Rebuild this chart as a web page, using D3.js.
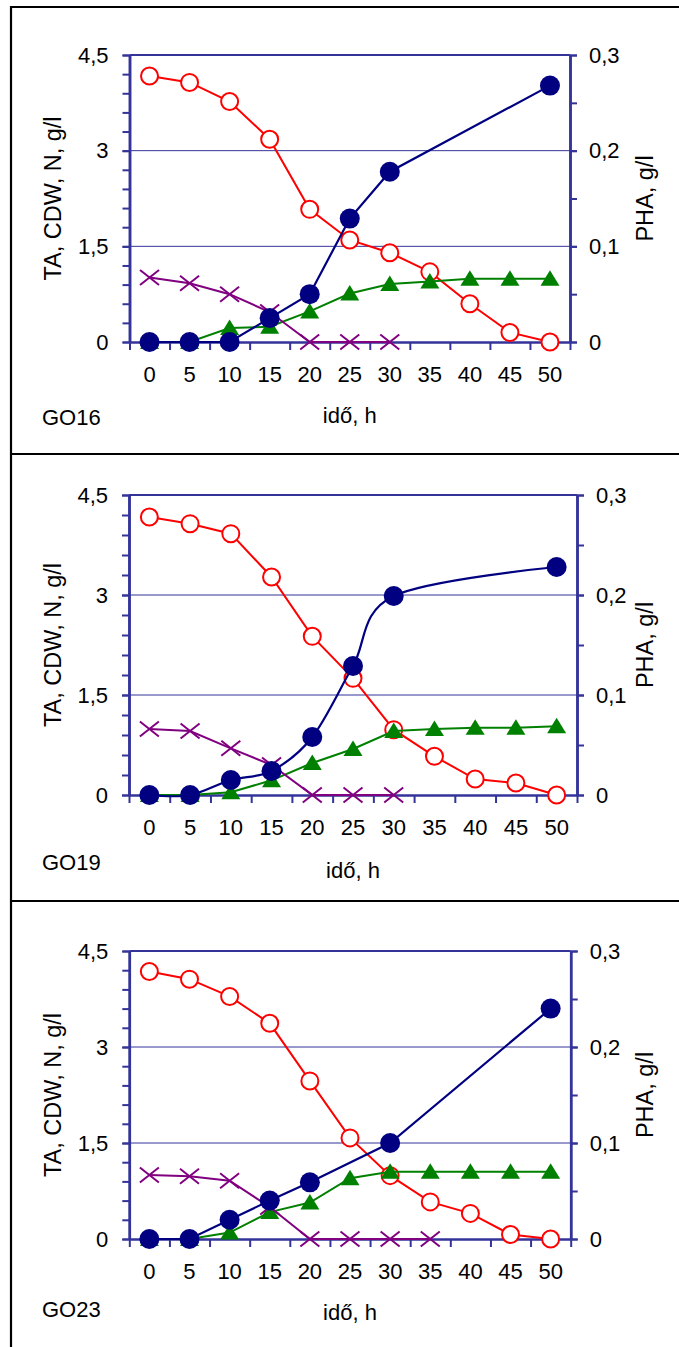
<!DOCTYPE html>
<html>
<head>
<meta charset="utf-8">
<script src="https://cdn.jsdelivr.net/npm/d3@7"></script>
<style>
  body { margin: 0; background: #fff; }
  svg { display: block; }
  text { font-family: "Liberation Sans", Arial, sans-serif; fill: #000; }
</style>
</head>
<body>
<script>
// time points (h)
const times = [0, 5, 10, 15, 20, 25, 30, 35, 40, 45, 50];

// GO16
const go16TA = [4.17, 4.07, 3.77, 3.18, 2.08, 1.6, 1.4, 1.1, 0.6, 0.15, 0.0];
const go16CDW = [0, 0, 0.22, 0.24, 0.48, 0.76, 0.91, 0.95, 0.99, 0.99, 0.99];
const go16N = [1.01, 0.92, 0.75, 0.47, 0, 0, 0, null, null, null, null];
const go16PHA = [0, 0, 0, 0.025, 0.05, 0.129, 0.178, null, null, null, 0.268];

// GO19
const go19TA = [4.17, 4.07, 3.92, 3.27, 2.38, 1.75, 0.98, 0.58, 0.24, 0.18, 0.0];
const go19CDW = [0, 0, 0.04, 0.22, 0.48, 0.69, 0.96, 0.99, 1.01, 1.01, 1.03];
const go19N = [0.99, 0.96, 0.7, 0.45, 0, 0, 0, null, null, null, null];
const go19PHA = [0, 0, 0.015, 0.024, 0.058, 0.129, 0.199, null, null, null, 0.228];

// GO23
const go23TA = [4.18, 4.06, 3.79, 3.37, 2.47, 1.58, 0.99, 0.58, 0.4, 0.07, 0.0];
const go23CDW = [0, 0, 0.1, 0.42, 0.57, 0.95, 1.05, 1.05, 1.05, 1.05, 1.05];
const go23N = [1.0, 0.98, 0.91, 0.5, 0, 0, 0, 0, null, null, null];
const go23PHA = [0, 0, 0.02, 0.04, 0.059, null, 0.1, null, null, null, 0.24];

const leftMajor = [0, 1.5, 3, 4.5];
const rightMajor = [0, 0.1, 0.2, 0.3];

const width = 679;
const height = 1347;
const axisColor = "#333399";

const panels = [
  { name: "GO16", ta: go16TA, cdw: go16CDW, n: go16N, pha: go16PHA, smooth: false,
    top: 55, bottom: 342, left: 129.5, right: 570, labelY: 417, titleY: 415 },
  { name: "GO19", ta: go19TA, cdw: go19CDW, n: go19N, pha: go19PHA, smooth: true,
    top: 495, bottom: 795, left: 129, right: 577, labelY: 862, titleY: 870 },
  { name: "GO23", ta: go23TA, cdw: go23CDW, n: go23N, pha: go23PHA, smooth: false,
    top: 951, bottom: 1239, left: 129.3, right: 570.7, labelY: 1309, titleY: 1312 }
];

const fmt = (v) => String(+v.toFixed(2)).replace(".", ",");

const svg = d3
  .select("body")
  .append("svg")
  .attr("width", width)
  .attr("height", height);

// outer frame
svg.append("line")
  .attr("x1", 11).attr("x2", 11).attr("y1", 6).attr("y2", height)
  .attr("stroke", "#000").attr("stroke-width", 2.2);
[7, 454, 901].forEach((y) => {
  svg.append("line")
    .attr("x1", 10).attr("x2", width).attr("y1", y).attr("y2", y)
    .attr("stroke", "#000").attr("stroke-width", 2.2);
});

function styleAxis(g) {
  g.selectAll("line").attr("stroke", axisColor).attr("stroke-width", 2);
  g.selectAll("path").attr("stroke", axisColor).attr("stroke-width", 2.5);
  g.selectAll("text").attr("font-size", 22).attr("fill", "#000")
    .style("font-family", '"Liberation Sans", Arial, sans-serif');
}

panels.forEach((p) => {
  const g = svg.append("g");

  const x = d3.scaleBand().domain(times).range([p.left, p.right]);
  const xc = (t) => x(t) + x.bandwidth() / 2;
  const xb = d3.scaleLinear().domain([0, times.length]).range([p.left, p.right]);
  const yL = d3.scaleLinear().domain([0, 4.5]).range([p.bottom, p.top]);
  const yR = d3.scaleLinear().domain([0, 0.3]).range([p.bottom, p.top]);

  // gridlines
  [1.5, 3].forEach((v) => {
    g.append("line")
      .attr("x1", p.left).attr("x2", p.right)
      .attr("y1", yL(v)).attr("y2", yL(v))
      .attr("stroke", axisColor).attr("stroke-width", 1);
  });
  // top frame
  g.append("line")
    .attr("x1", p.left).attr("x2", p.right)
    .attr("y1", p.top).attr("y2", p.top)
    .attr("stroke", axisColor).attr("stroke-width", 2.2);

  // left axis
  g.append("g").attr("transform", `translate(${p.left},0)`)
    .call(d3.axisLeft(yL).tickValues(d3.range(0, 4.51, 0.3)).tickSize(7).tickSizeOuter(0).tickFormat(""))
    .call(styleAxis);
  g.append("g").attr("transform", `translate(${p.left},0)`)
    .call(d3.axisLeft(yL).tickValues(leftMajor).tickSize(7).tickSizeOuter(0).tickPadding(14).tickFormat(fmt))
    .call(styleAxis);

  // right axis
  g.append("g").attr("transform", `translate(${p.right},0)`)
    .call(d3.axisRight(yR).tickValues(d3.range(0, 0.301, 0.05)).tickSize(7).tickSizeOuter(0).tickFormat(""))
    .call(styleAxis);
  g.append("g").attr("transform", `translate(${p.right},0)`)
    .call(d3.axisRight(yR).tickValues(rightMajor).tickSize(7).tickSizeOuter(0).tickPadding(12).tickFormat(fmt))
    .call(styleAxis);

  // bottom axis: ticks between categories, labels at centres
  g.append("g").attr("transform", `translate(0,${p.bottom})`)
    .call(d3.axisBottom(xb).tickValues(d3.range(0, times.length + 1)).tickSize(8).tickSizeOuter(0).tickFormat(""))
    .call(styleAxis);
  g.append("g").attr("transform", `translate(0,${p.bottom})`)
    .call(d3.axisBottom(x).tickSize(0).tickPadding(24))
    .call(styleAxis)
    .call((a) => a.select(".domain").remove());

  const pts = (arr) => times.map((t, i) => ({ t, v: arr[i] })).filter((d) => d.v != null);

  const lineL = d3.line().x((d) => xc(d.t)).y((d) => yL(d.v));
  const lineR = d3.line().x((d) => xc(d.t)).y((d) => yR(d.v))
    .curve(p.smooth ? d3.curveCardinal.tension(0) : d3.curveLinear);

  // TA
  g.append("path").attr("d", lineL(pts(p.ta)))
    .attr("fill", "none").attr("stroke", "#ff0000").attr("stroke-width", 2);
  g.selectAll(".ta").data(pts(p.ta)).enter().append("circle")
    .attr("cx", (d) => xc(d.t)).attr("cy", (d) => yL(d.v)).attr("r", 8.5)
    .attr("fill", "#fff").attr("stroke", "#ff0000").attr("stroke-width", 2);

  // CDW
  g.append("path").attr("d", lineL(pts(p.cdw)))
    .attr("fill", "none").attr("stroke", "#008000").attr("stroke-width", 2);
  g.selectAll(".cdw").data(pts(p.cdw)).enter().append("path")
    .attr("transform", (d) => `translate(${xc(d.t)},${yL(d.v)})`)
    .attr("d", "M0,-8.5L9.5,7L-9.5,7Z")
    .attr("fill", "#008000");

  // N
  g.append("path").attr("d", lineL(pts(p.n)))
    .attr("fill", "none").attr("stroke", "#800080").attr("stroke-width", 2);
  g.selectAll(".n").data(pts(p.n)).enter().append("path")
    .attr("transform", (d) => `translate(${xc(d.t)},${yL(d.v)})`)
    .attr("d", "M-9.5,-7.5L9.5,7.5M-9.5,7.5L9.5,-7.5")
    .attr("fill", "none").attr("stroke", "#800080").attr("stroke-width", 2);

  // PHA (right axis)
  g.append("path").attr("d", lineR(pts(p.pha)))
    .attr("fill", "none").attr("stroke", "#000080").attr("stroke-width", 2.2);
  g.selectAll(".pha").data(pts(p.pha)).enter().append("circle")
    .attr("cx", (d) => xc(d.t)).attr("cy", (d) => yR(d.v)).attr("r", 10)
    .attr("fill", "#000080");

  // texts
  const midY = (p.top + p.bottom) / 2;
  g.append("text").attr("x", 42).attr("y", p.labelY).attr("dy", "0.35em")
    .attr("font-size", 22).text(p.name);
  g.append("text").attr("x", (p.left + p.right) / 2).attr("y", p.titleY).attr("dy", "0.35em")
    .attr("text-anchor", "middle").attr("font-size", 22).text("idő, h");
  g.append("text").attr("transform", `translate(53,${midY}) rotate(-90)`)
    .attr("dy", "0.35em").attr("text-anchor", "middle").attr("font-size", 23.5)
    .text("TA, CDW, N, g/l");
  g.append("text").attr("transform", `translate(645,${midY}) rotate(-90)`)
    .attr("dy", "0.35em").attr("text-anchor", "middle").attr("font-size", 23.5)
    .text("PHA, g/l");
});
</script>
</body>
</html>
